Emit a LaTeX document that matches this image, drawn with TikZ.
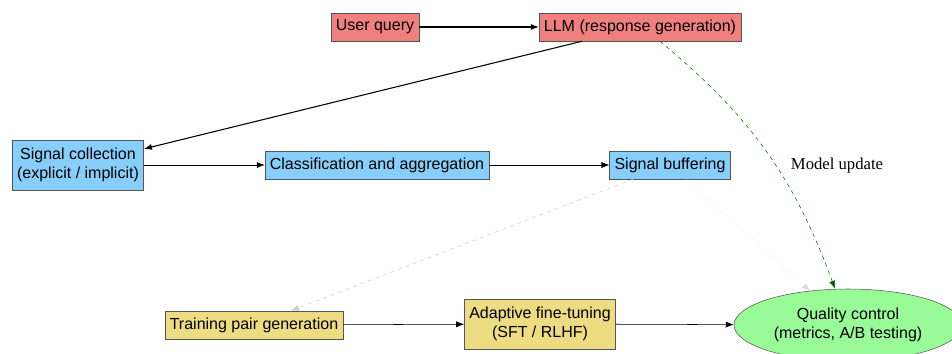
\documentclass[tikz,border=0pt]{standalone}
\usepackage{fontspec}
\setmainfont{Liberation Sans}
\newfontfamily\serifface{Liberation Serif}
\usepackage{xcolor}
\usetikzlibrary{shapes.geometric, arrows.meta, positioning, calc}

\definecolor{qred}{HTML}{F08080}
\definecolor{qblue}{HTML}{87CEFA}
\definecolor{qyellow}{HTML}{EEDC82}
\definecolor{qgreen}{HTML}{98FB98}
\definecolor{qedge}{HTML}{555555}

\tikzset{
  box/.style={draw=qedge, font=\fontsize{12}{14.5}\selectfont, align=center,
    minimum height=21pt, inner xsep=3.6pt, inner ysep=2pt},
  twoline/.style={box, minimum height=37.5pt},
  flow/.style={-{Latex[length=6pt,width=4.5pt]}, thin},
}

\begin{document}
\begin{tikzpicture}[x=0.75pt, y=-0.75pt]
\useasboundingbox (0,0) rectangle (952,353);

% Query and model
\node[box, fill=qred] (query) at (375,27) {User query};
\node[box, fill=qred] (llm) at (640,27) {LLM (response generation)};

% Signal path
\node[twoline, fill=qblue] (collect) at (78,165) {Signal collection\\(explicit / implicit)};
\node[box, fill=qblue] (classify) at (377,165) {Classification and aggregation};
\node[box, fill=qblue] (buffer) at (670,165) {Signal buffering};

% Training path
\node[box, fill=qyellow] (pairs) at (254,325) {Training pair generation};
\node[twoline, fill=qyellow] (tune) at (540,324) {Adaptive fine-tuning\\(SFT / RLHF)};
\node[ellipse, draw=qedge, fill=qgreen, font=\fontsize{12}{14.5}\selectfont, align=center,
  minimum width=171pt, minimum height=54pt, inner sep=0pt] (quality) at (848,325)
  {Quality control\\(metrics, A/B testing)};

\node[font=\serifface\fontsize{12.5}{14.5}\selectfont] (update) at (837,165) {Model update};

% Edges
\draw[flow, thick] (query) -- (llm);
\draw[flow, thick] (llm) -- (collect);
\draw[flow] (collect) -- (classify);
\draw[flow] (classify) -- (buffer);
\draw[flow, draw=black!20, dashed] (buffer) -- (pairs);
\draw[flow, draw=black!15, dotted] (buffer) -- (quality);
\draw[flow] (pairs) -- (tune);
\draw[flow] (tune) -- (quality);
\coordinate (llmfoot) at ($(llm.south)+(20,0)$);
\coordinate (qualtop) at ($(quality.north)+(-13,0)$);
\draw[flow, draw=green!40!black, dashed] (llmfoot) to[bend left=15] (qualtop);
\end{tikzpicture}
\end{document}
